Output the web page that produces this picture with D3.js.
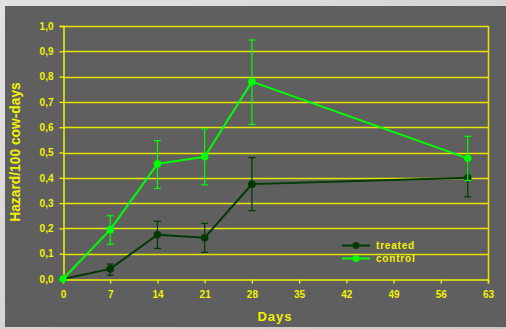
<!DOCTYPE html>
<html>
<head>
<meta charset="utf-8">
<script src="https://cdn.jsdelivr.net/npm/d3@7"></script>
<style>
  html, body { margin: 0; padding: 0; }
  body { width: 506px; height: 329px; overflow: hidden; }
  svg { display: block; }
</style>
</head>
<body>
<svg id="chart" width="506" height="329"></svg>
<script>
// Sampling days
const days = [0, 7, 14, 21, 28, 60];

// Hazard per 100 cow-days, with lower / upper error limits
const treated      = [0, 0.04, 0.175, 0.163, 0.375, 0.40];
const treatedLow   = [0, 0.015, 0.121, 0.105, 0.27, 0.325];
const treatedHigh  = [0, 0.059, 0.228, 0.22, 0.48, 0.47];

const control      = [0, 0.195, 0.455, 0.483, 0.78, 0.477];
const controlLow   = [0, 0.137, 0.358, 0.372, 0.611, 0.389];
const controlHigh  = [0, 0.25, 0.547, 0.593, 0.945, 0.564];

// Axis ticks
const xTicks = [0, 7, 14, 21, 28, 35, 42, 49, 56, 63];
const yTicks = [0, 0.1, 0.2, 0.3, 0.4, 0.5, 0.6, 0.7, 0.8, 0.9, 1.0];

const seriesNames = ["treated", "control"];

const YELLOW = "#f2f200";
const GRID = "#e4e400";
const DARK = "#003a00";
const BRIGHT = "#00ff00";
const FONT = "Liberation Sans, Arial, sans-serif";

const svg = d3.select("#chart");

// slide backdrop
const grad = svg.append("defs").append("linearGradient")
  .attr("id", "bg").attr("x1", "0").attr("y1", "0").attr("x2", "1").attr("y2", "1");
grad.append("stop").attr("offset", "0").attr("stop-color", "#e2e2e2");
grad.append("stop").attr("offset", "1").attr("stop-color", "#c8c8c8");
svg.append("rect").attr("width", 506).attr("height", 329).attr("fill", "url(#bg)");

// dark chart panel
svg.append("rect").attr("x", 5).attr("y", 6).attr("width", 501).attr("height", 321)
  .attr("fill", "#5f5f5f");

const plot = { left: 63, right: 488, top: 26, bottom: 279 };

const x = d3.scaleLinear().domain([0, 63]).range([plot.left, plot.right]);
const y = d3.scaleLinear().domain([0, 1]).range([plot.bottom, plot.top]);

const fmt = d => d3.format(".1f")(d).replace(".", ",");

// horizontal gridlines
svg.append("g").selectAll("line").data(yTicks.filter(d => d > 0)).join("line")
  .attr("x1", plot.left).attr("x2", plot.right)
  .attr("y1", d => Math.round(y(d)) + 0.5).attr("y2", d => Math.round(y(d)) + 0.5)
  .attr("stroke", GRID).attr("stroke-width", 1.3);

// right frame edge
svg.append("line")
  .attr("x1", plot.right + 0.5).attr("x2", plot.right + 0.5)
  .attr("y1", plot.top).attr("y2", plot.bottom + 0.5)
  .attr("stroke", GRID).attr("stroke-width", 1.5);

// y axis
const yAxis = svg.append("g")
  .attr("transform", `translate(${plot.left + 0.5},0)`)
  .call(d3.axisLeft(y).tickValues(yTicks).tickFormat(fmt).tickSize(4).tickPadding(6));
yAxis.select(".domain").attr("stroke", YELLOW).attr("stroke-width", 1.5);
yAxis.selectAll(".tick line").attr("stroke", YELLOW).attr("stroke-width", 1.3);
yAxis.selectAll(".tick text")
  .attr("fill", YELLOW).attr("font-family", FONT)
  .attr("font-weight", "bold").attr("font-size", 10);

// x axis
const xAxis = svg.append("g")
  .attr("transform", `translate(0,${plot.bottom + 0.5})`)
  .call(d3.axisBottom(x).tickValues(xTicks).tickFormat(d3.format("d")).tickSize(4).tickPadding(7));
xAxis.select(".domain").attr("stroke", YELLOW).attr("stroke-width", 1.5);
xAxis.selectAll(".tick line").attr("stroke", YELLOW).attr("stroke-width", 1.3);
xAxis.selectAll(".tick text")
  .attr("fill", YELLOW).attr("font-family", FONT)
  .attr("font-weight", "bold").attr("font-size", 10);

// axis titles
svg.append("text")
  .attr("x", 275).attr("y", 321)
  .attr("text-anchor", "middle")
  .attr("fill", YELLOW).attr("font-family", FONT)
  .attr("font-weight", "bold").attr("font-size", 13).attr("letter-spacing", 1)
  .text("Days");

svg.append("text")
  .attr("transform", "translate(20,152) rotate(-90)")
  .attr("text-anchor", "middle")
  .attr("fill", YELLOW).attr("font-family", FONT)
  .attr("font-weight", "bold").attr("font-size", 13.8)
  .text("Hazard/100 cow-days");

const series = [
  { name: seriesNames[0], values: treated, low: treatedLow, high: treatedHigh, color: DARK },
  { name: seriesNames[1], values: control, low: controlLow, high: controlHigh, color: BRIGHT }
];

const line = d3.line().x(d => x(d[0])).y(d => y(d[1]));

series.forEach(s => {
  const g = svg.append("g");
  const pts = days.map((d, i) => ({ day: d, v: s.values[i], lo: s.low[i], hi: s.high[i] }));

  // error bars
  const eb = g.selectAll("g.err").data(pts.filter(p => p.hi > p.lo)).join("g").attr("class", "err");
  eb.append("line")
    .attr("x1", p => x(p.day)).attr("x2", p => x(p.day))
    .attr("y1", p => y(p.lo)).attr("y2", p => y(p.hi))
    .attr("stroke", s.color).attr("stroke-width", 1.2);
  [p => p.lo, p => p.hi].forEach(acc => {
    eb.append("line")
      .attr("x1", p => x(p.day) - 3.5).attr("x2", p => x(p.day) + 3.5)
      .attr("y1", p => y(acc(p))).attr("y2", p => y(acc(p)))
      .attr("stroke", s.color).attr("stroke-width", 1.2);
  });

  g.append("path")
    .attr("d", line(days.map((d, i) => [d, s.values[i]])))
    .attr("fill", "none").attr("stroke", s.color).attr("stroke-width", 2);

  g.selectAll("circle").data(pts).join("circle")
    .attr("cx", p => x(p.day)).attr("cy", p => y(p.v)).attr("r", 3.8)
    .attr("fill", s.color);
});

// legend
const legend = svg.append("g");
series.forEach((s, i) => {
  const ly = 245.5 + i * 13;
  legend.append("line")
    .attr("x1", 342).attr("x2", 370).attr("y1", ly).attr("y2", ly)
    .attr("stroke", s.color).attr("stroke-width", 2);
  legend.append("circle").attr("cx", 356).attr("cy", ly).attr("r", 3.5).attr("fill", s.color);
  legend.append("text")
    .attr("x", 376).attr("y", ly + 3.5)
    .attr("fill", YELLOW).attr("font-family", FONT)
    .attr("font-weight", "bold").attr("font-size", 10).attr("letter-spacing", 0.8)
    .text(s.name);
});
</script>
</body>
</html>
